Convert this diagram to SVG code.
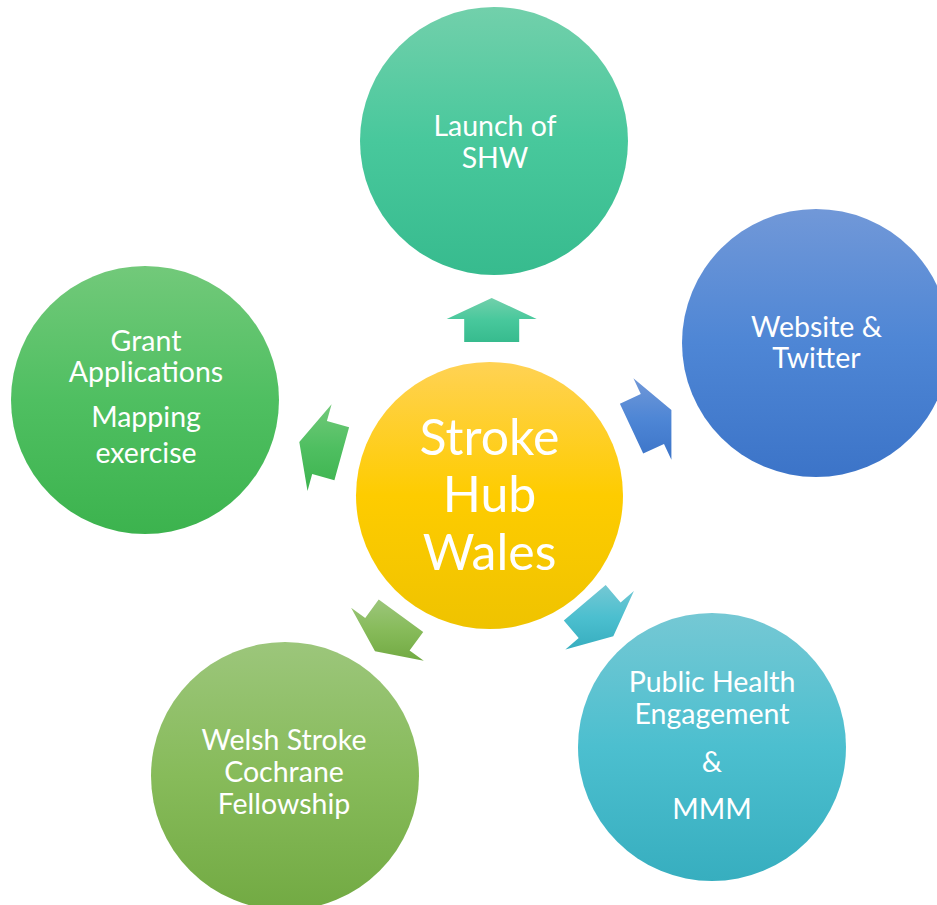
<svg xmlns="http://www.w3.org/2000/svg" width="937" height="905" viewBox="0 0 937 905">
<defs>
<linearGradient id="gTeal" x1="0" y1="0" x2="0" y2="1"><stop offset="0" stop-color="#72d0ab"/><stop offset="0.5" stop-color="#48c89c"/><stop offset="1" stop-color="#37bb8e"/></linearGradient>
<linearGradient id="gBlue" x1="0" y1="0" x2="0" y2="1"><stop offset="0" stop-color="#7198d8"/><stop offset="0.5" stop-color="#4e86d5"/><stop offset="1" stop-color="#3c74c8"/></linearGradient>
<linearGradient id="gGreen" x1="0" y1="0" x2="0" y2="1"><stop offset="0" stop-color="#72c97a"/><stop offset="0.5" stop-color="#4fbf61"/><stop offset="1" stop-color="#3cb34e"/></linearGradient>
<linearGradient id="gLime" x1="0" y1="0" x2="0" y2="1"><stop offset="0" stop-color="#9cc67b"/><stop offset="0.5" stop-color="#87bb5a"/><stop offset="1" stop-color="#72aa43"/></linearGradient>
<linearGradient id="gCyan" x1="0" y1="0" x2="0" y2="1"><stop offset="0" stop-color="#75c8d4"/><stop offset="0.5" stop-color="#4cbfcf"/><stop offset="1" stop-color="#37aebf"/></linearGradient>
<linearGradient id="gGold" x1="0" y1="0" x2="0" y2="1"><stop offset="0" stop-color="#ffd254"/><stop offset="0.5" stop-color="#fecc00"/><stop offset="1" stop-color="#efc300"/></linearGradient>
</defs>
<style>
text{font-family:Lato,"Open Sans","Liberation Sans",sans-serif;fill:#ffffff;text-anchor:middle}
.t{font-size:28.5px}
.big{font-size:50px}
</style>
<g id="connectors">
<polygon fill="url(#gTeal)" points="491.7,298 536.7,319 519.2,319 519.2,342 464.2,342 464.2,319 446.7,319"/>
<polygon fill="url(#gBlue)" points="671.4,410.1 671.4,459.8 664,443.9 643.2,453.6 619.9,403.8 640.8,394.1 633.4,378.2"/>
<polygon fill="url(#gCyan)" points="613.3,636.3 565.4,649.4 578.7,638.1 563.8,620.6 605.7,584.9 620.6,602.4 633.9,591.1"/>
<polygon fill="url(#gLime)" points="375,651.3 351.1,607.8 365.2,618.1 378.7,599.5 423.2,631.9 409.6,650.5 423.8,660.8"/>
<polygon fill="url(#gGreen)" points="299.3,442 331.6,404.3 326.9,421.1 349.1,427.3 334.4,480.3 312.2,474.1 307.5,491"/>
</g>
<g id="hub">
<circle cx="489.5" cy="495.5" r="133.5" fill="url(#gGold)"/>
<text class="big" x="489.5" y="455">Stroke</text>
<text class="big" x="489.5" y="512">Hub</text>
<text class="big" x="489.5" y="570">Wales</text>
</g>
<g id="launch">
<circle cx="494" cy="141" r="134" fill="url(#gTeal)"/>
<text class="t" x="495" y="136">Launch of</text>
<text class="t" x="495" y="168">SHW</text>
</g>
<g id="website">
<circle cx="816" cy="343" r="134" fill="url(#gBlue)"/>
<text class="t" x="816.5" y="337">Website &amp;</text>
<text class="t" x="816.5" y="368">Twitter</text>
</g>
<g id="public">
<circle cx="712" cy="747" r="134" fill="url(#gCyan)"/>
<text class="t" x="712" y="692">Public Health</text>
<text class="t" x="712" y="724">Engagement</text>
<text class="t" x="712" y="772">&amp;</text>
<text class="t" x="712" y="819">MMM</text>
</g>
<g id="welsh">
<circle cx="285" cy="776" r="134" fill="url(#gLime)"/>
<text class="t" x="284" y="750">Welsh Stroke</text>
<text class="t" x="284" y="782">Cochrane</text>
<text class="t" x="284" y="814">Fellowship</text>
</g>
<g id="grant">
<circle cx="145" cy="400" r="134" fill="url(#gGreen)"/>
<text class="t" x="146" y="351">Grant</text>
<text class="t" x="146" y="382">Applications</text>
<text class="t" x="146" y="427">Mapping</text>
<text class="t" x="146" y="463">exercise</text>
</g>
</svg>
